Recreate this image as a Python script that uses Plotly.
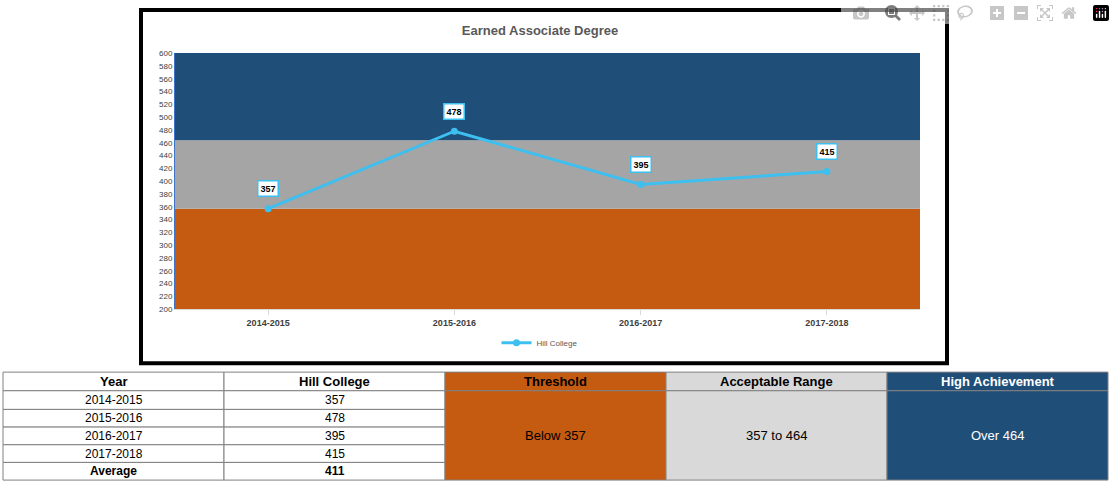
import plotly.graph_objects as go

W, H = 1115, 490

years = ["2014-2015", "2015-2016", "2016-2017", "2017-2018"]
hill = [357, 478, 395, 415]
average = 411
threshold_low = 357
threshold_high = 464

orange = "#C55A11"
gray = "#A5A5A5"
blue = "#1F4E79"
lineBlue = "#3DBFF0"
font = "Liberation Sans Narrow, Liberation Sans, Arial"


def px(x):
    return x / W


def py(y):
    return 1 - y / H


fig = go.Figure()
fig.add_trace(go.Scatter(x=years, y=hill, mode="lines+markers", name="Hill College",
                         line=dict(color=lineBlue, width=3), marker=dict(size=7, color=lineBlue),
                         hoverinfo="x+y"))

shapes = []
annotations = []
# background bands
for y0, y1, c in [(200, threshold_low, orange), (threshold_low, threshold_high, gray), (threshold_high, 600, blue)]:
    shapes.append(dict(type="rect", xref="x domain", yref="y", x0=0, x1=1, y0=y0, y1=y1,
                       fillcolor=c, line_width=0, layer="below"))

# data labels
for yr, v in zip(years, hill):
    annotations.append(dict(x=yr, y=v, xref="x", yref="y", text="<b>%d</b>" % v, showarrow=False,
                            yshift=20, bgcolor="white", bordercolor=lineBlue, borderwidth=1.5,
                            borderpad=2, font=dict(size=9, color="black", family=font)))

# chart frame
shapes.append(dict(type="rect", xref="paper", yref="paper", x0=px(141), x1=px(947), y0=py(366), y1=py(6),
                   line=dict(color="black", width=4), fillcolor="rgba(0,0,0,0)"))

# table
cols = [3, 224, 445, 666, 887, 1108]
rows = [375, 394, 413, 431, 449, 467, 485]
header = ["Year", "Hill College", "Threshold", "Acceptable Range", "High Achievement"]
headFill = ["white", "white", orange, "#D9D9D9", blue]
headFont = ["black", "black", "black", "black", "white"]
bodyFill = [orange, "#D9D9D9", blue]
bodyText = ["Below %d" % threshold_low, "%d to %d" % (threshold_low, threshold_high), "Over %d" % threshold_high]
bodyFont = ["black", "black", "white"]
edge = dict(color="#808080", width=1)


def cell_text(xc, yc, txt, size, color):
    annotations.append(dict(x=px(xc), y=py(yc), xref="paper", yref="paper", text=txt, showarrow=False,
                            xanchor="center", yanchor="middle",
                            font=dict(size=size, color=color, family=font)))


for i in range(5):
    shapes.append(dict(type="rect", xref="paper", yref="paper", x0=px(cols[i]), x1=px(cols[i + 1]),
                       y0=py(rows[1]), y1=py(rows[0]), fillcolor=headFill[i], line=edge))
    cell_text((cols[i] + cols[i + 1]) / 2, (rows[0] + rows[1]) / 2, "<b>%s</b>" % header[i], 13, headFont[i])

left = years + ["<b>Average</b>"]
right = [str(v) for v in hill] + ["<b>%d</b>" % average]
for r in range(5):
    for c, txt in enumerate([left[r], right[r]]):
        shapes.append(dict(type="rect", xref="paper", yref="paper", x0=px(cols[c]), x1=px(cols[c + 1]),
                           y0=py(rows[r + 2]), y1=py(rows[r + 1]), fillcolor="white", line=edge))
        cell_text((cols[c] + cols[c + 1]) / 2, (rows[r + 1] + rows[r + 2]) / 2, txt, 12, "black")

for i in range(3):
    shapes.append(dict(type="rect", xref="paper", yref="paper", x0=px(cols[i + 2]), x1=px(cols[i + 3]),
                       y0=py(rows[6]), y1=py(rows[1]), fillcolor=bodyFill[i], line=edge))
    cell_text((cols[i + 2] + cols[i + 3]) / 2, (rows[1] + rows[6]) / 2, bodyText[i], 13, bodyFont[i])

fig.update_layout(
    width=W, height=H, margin=dict(l=0, r=0, t=0, b=0),
    paper_bgcolor="white", plot_bgcolor="white",
    title=dict(text="<b>Earned Associate Degree</b>", x=px(540), xanchor="center", y=py(30), yanchor="middle",
               font=dict(size=13, color="#595959", family=font)),
    xaxis=dict(domain=[px(175), px(920)], range=[-0.5, 3.5], showgrid=False, ticks="outside",
               tickcolor="#D9D9D9", tickfont=dict(size=9, color="#404040", family=font),
               tickprefix="<b>", ticksuffix="</b>", showline=True, linecolor="#D9D9D9", zeroline=False),
    yaxis=dict(domain=[py(311), py(50)], range=[200, 600], dtick=20, showgrid=False,
               tickfont=dict(size=8, color="#404040", family=font), showline=True, linecolor="#4472C4",
               zeroline=False),
    showlegend=True,
    legend=dict(orientation="h", x=px(540), xanchor="center", y=py(345), yanchor="middle",
                font=dict(size=8, color="#595959", family=font), bgcolor="rgba(0,0,0,0)"),
    shapes=shapes, annotations=annotations,
)

fig.write_html("out.html", post_script="document.body.style.margin='0px';")
